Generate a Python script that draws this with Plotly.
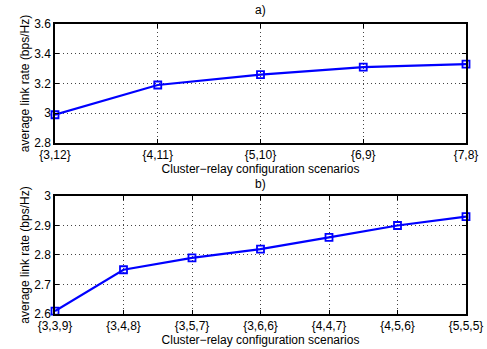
import plotly.graph_objects as go
from plotly.subplots import make_subplots

cats_a = ["{3,12}", "{4,11}", "{5,10}", "{6,9}", "{7,8}"]
vals_a = [2.99, 3.19, 3.26, 3.31, 3.33]
cats_b = ["{3,3,9}", "{3,4,8}", "{3,5,7}", "{3,6,6}", "{4,4,7}", "{4,5,6}", "{5,5,5}"]
vals_b = [2.61, 2.75, 2.79, 2.82, 2.86, 2.90, 2.93]
yticks_a = [2.8, 3.0, 3.2, 3.4, 3.6]
yticks_b = [2.6, 2.7, 2.8, 2.9, 3.0]

fig = make_subplots(rows=2, cols=1, vertical_spacing=0.1)
fig.update_layout(
    yaxis=dict(domain=[0.5897, 1.0]),
    yaxis2=dict(domain=[0.0, 0.4069]),
)

blue = "#0000ff"
for row, cats, vals in [(1, cats_a, vals_a), (2, cats_b, vals_b)]:
    fig.add_trace(go.Scatter(
        x=list(range(len(cats))), y=vals, mode="lines+markers",
        line=dict(color=blue, width=2.2),
        marker=dict(symbol="square-open", size=7, color=blue, line=dict(width=1.8, color=blue)),
        cliponaxis=False, showlegend=False), row=row, col=1)

font = dict(family="Liberation Sans, Arial, sans-serif", size=12, color="black")
common = dict(showline=True, linecolor="black", linewidth=1.5, mirror="allticks",
              ticks="inside", ticklen=4, tickcolor="black",
              showgrid=True, gridcolor="#444444", griddash="1px,3px", gridwidth=1,
              zeroline=False, tickfont=font, automargin=False)

for row, cats, yt in [(1, cats_a, yticks_a), (2, cats_b, yticks_b)]:
    fig.update_xaxes(range=[0, len(cats) - 1], tickvals=list(range(len(cats))), ticktext=cats,
                     title=dict(text="Cluster\u2212relay configuration scenarios", font=font, standoff=0),
                     row=row, col=1, **common)
    fig.update_yaxes(range=[yt[0], yt[-1]], tickvals=yt,
                     ticktext=[("%g" % v) for v in yt],
                     title=dict(text="average link rate (bps/Hz)", font=font, standoff=2),
                     row=row, col=1, **common)

fig.update_layout(
    width=487, height=349,
    margin=dict(l=55, r=21, t=24, b=35),
    paper_bgcolor="white", plot_bgcolor="white",
    font=font,
    annotations=[
        dict(text="a)", x=0.5, xref="paper", y=1.0, yref="paper", yshift=5,
             yanchor="bottom", showarrow=False, font=font),
        dict(text="b)", x=0.5, xref="paper", y=0.4069, yref="paper", yshift=3,
             yanchor="bottom", showarrow=False, font=font),
    ],
)

fig.write_html("out.html", config={"displayModeBar": False},
               post_script="document.body.style.margin='0';")
